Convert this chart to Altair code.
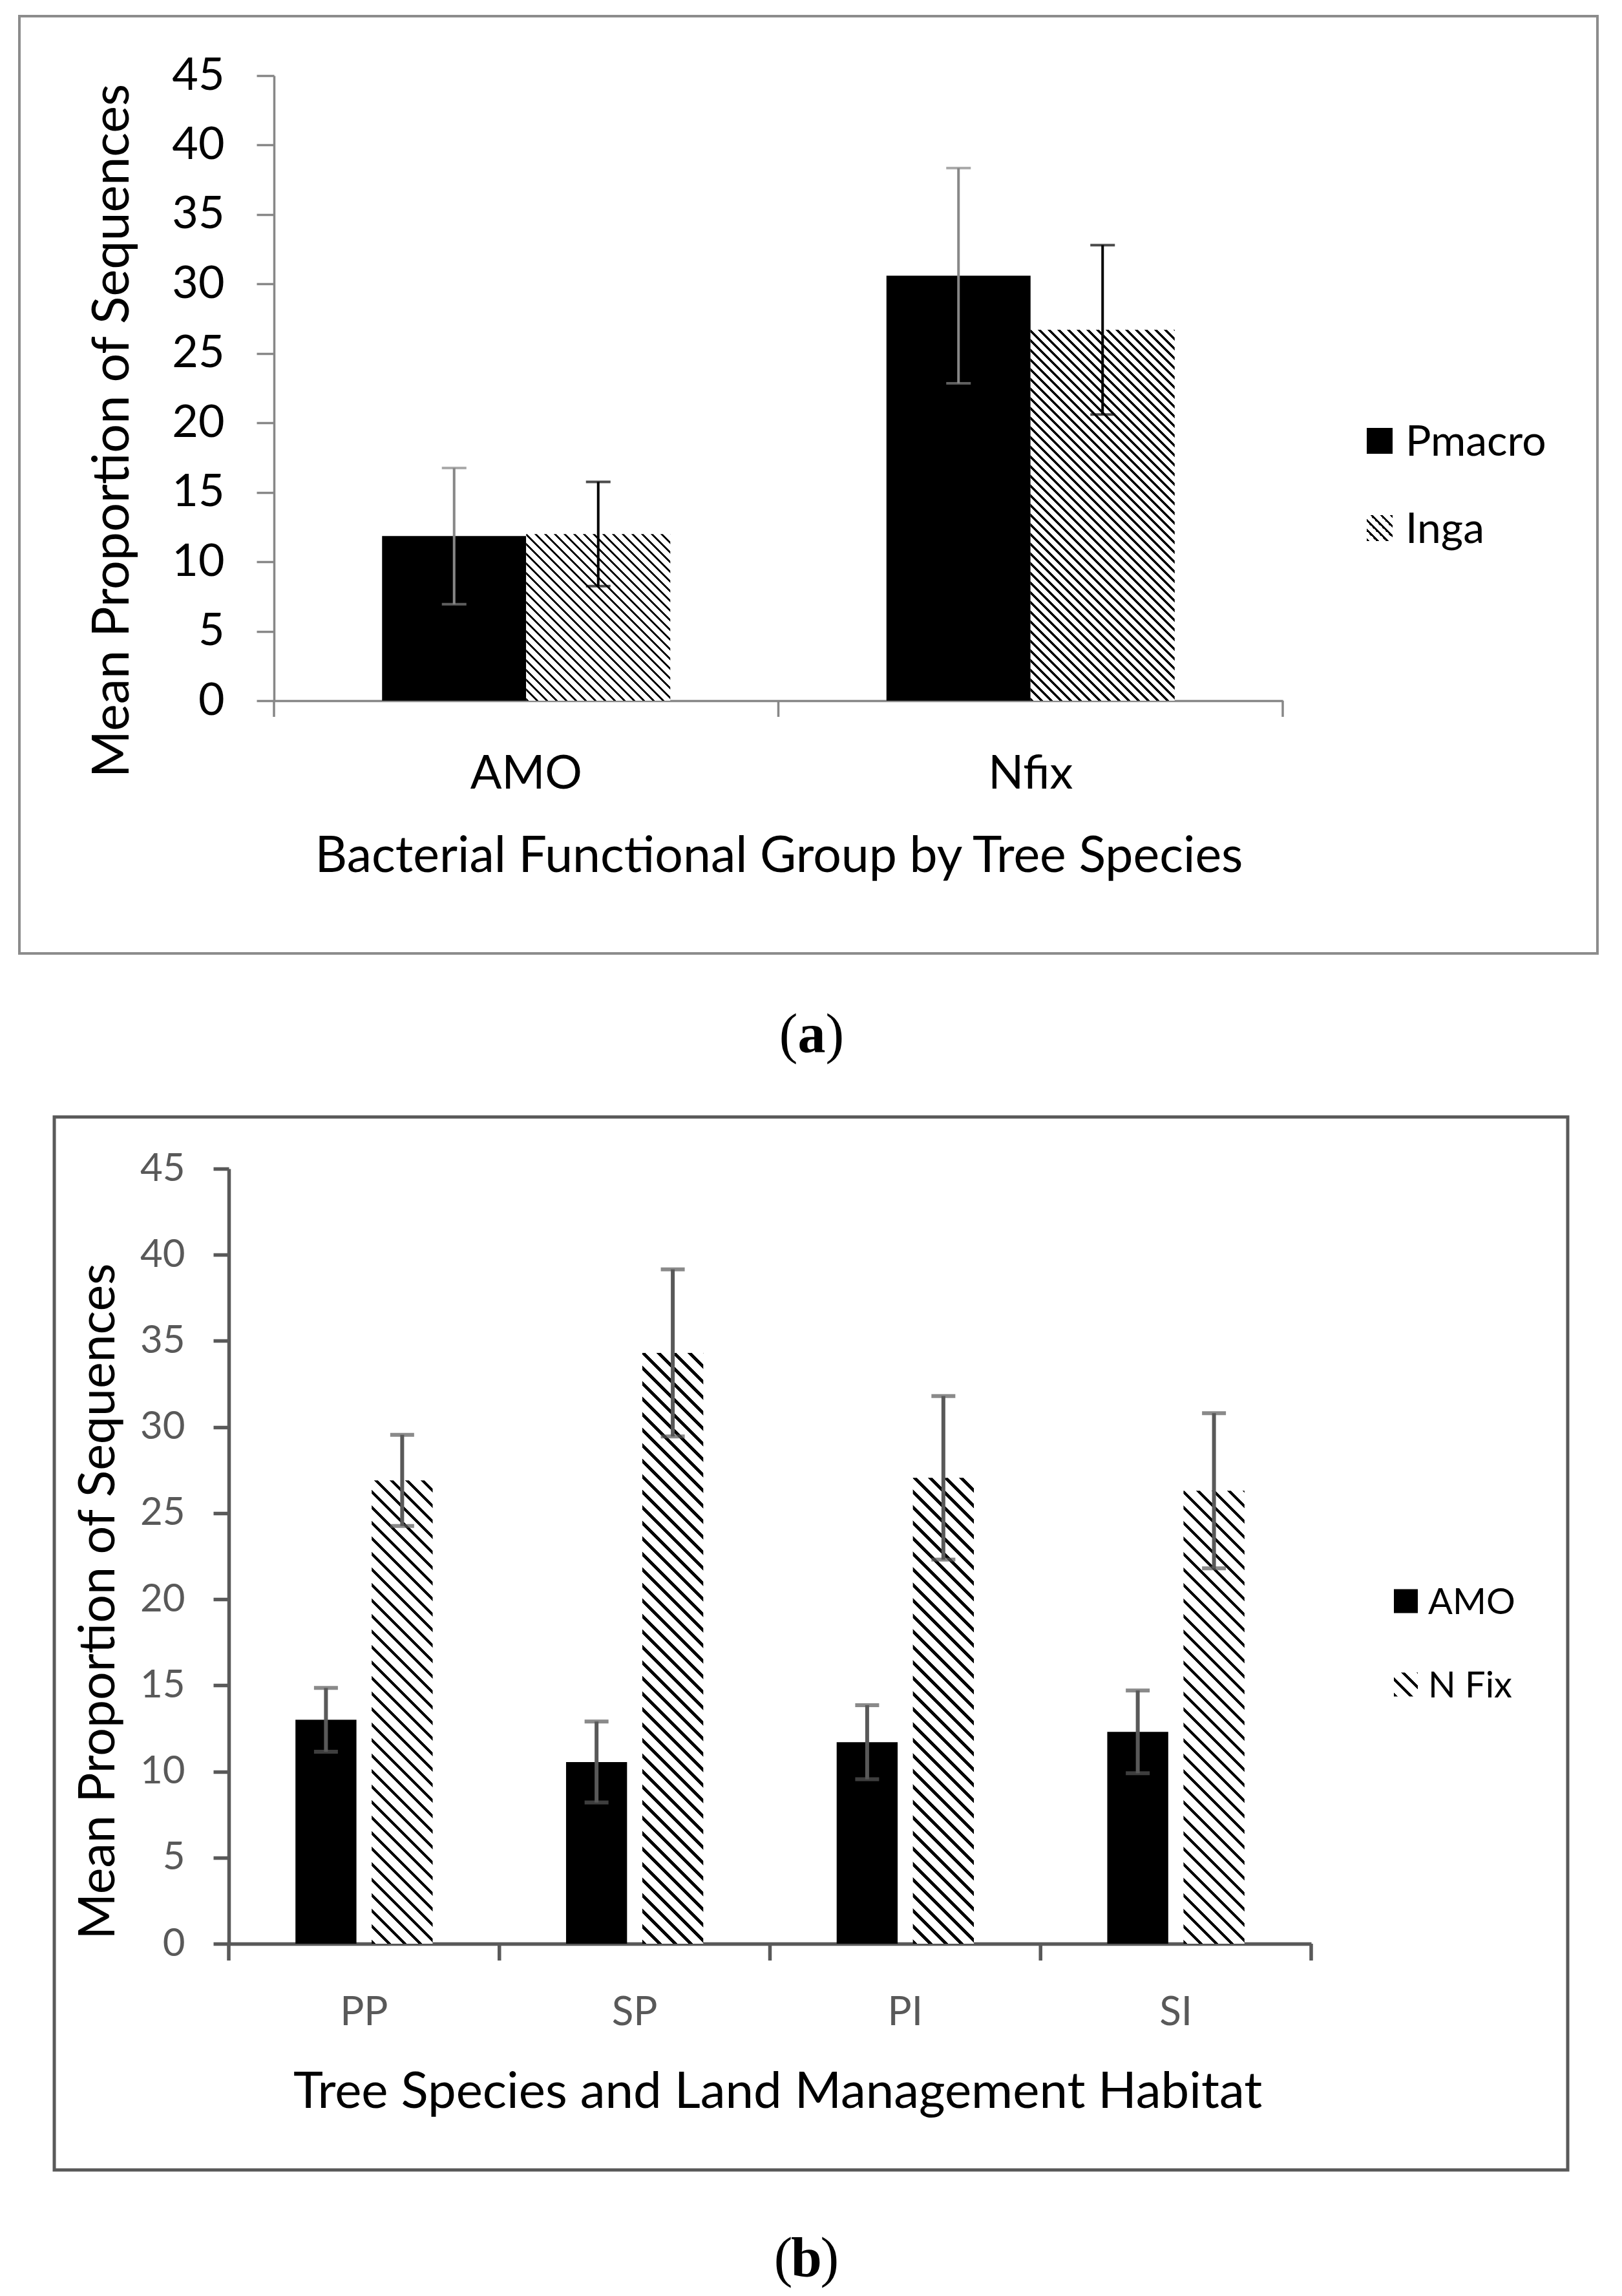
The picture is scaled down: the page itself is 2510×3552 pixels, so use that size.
import altair as alt
import pandas as pd

# ---------------- panel (a) data ----------------
groups_a = ["AMO", "Nfix"]
series_a = ["Pmacro", "Inga"]
pmacro_mean = [11.85, 30.6]
pmacro_err = [4.9, 7.75]
inga_mean = [12.0, 26.7]
inga_err = [3.75, 6.1]

# ---------------- panel (b) data ----------------
habitats_b = ["PP", "SP", "PI", "SI"]
series_b = ["AMO", "N Fix"]
amo_mean = [13.0, 10.55, 11.7, 12.3]
amo_err = [1.85, 2.35, 2.15, 2.4]
nfix_mean = [26.9, 34.3, 27.05, 26.3]
nfix_err = [2.65, 4.85, 4.75, 4.5]

y_ticks = [0, 5, 10, 15, 20, 25, 30, 35, 40, 45]
y_max = 45

xtitle_a = "Bacterial Functional Group by Tree Species"
ytitle_a = "Mean Proportion of  Sequences"
xtitle_b = "Tree Species and Land Management Habitat"
ytitle_b = "Mean Proportion of Sequences"
caption_a = ["(", "a", ")"]
caption_b = ["(", "b", ")"]

# ---------------- style ----------------
FONT = "Lato"
SERIF = "Liberation Serif"
INK = "#000000"
PAPER = "#ffffff"
GRAY_A = "#878787"
GRAY_B = "#595959"


def hatch_fill(w, h, period, duty, slope=1.0):
    """Diagonal stripes drawn as a linear gradient in bounding-box units."""
    k = h / (slope * w)
    s = (1.0 + k) / (1.0 + k * k)
    span = w + h / slope
    stops = []
    j = 0
    while j * period < span:
        a = j * period / span
        b = min((j + duty) * period / span, 1.0)
        c = min((j + 1) * period / span, 1.0)
        stops += [
            {"offset": round(a, 5), "color": INK},
            {"offset": round(b, 5), "color": INK},
            {"offset": round(b, 5), "color": PAPER},
            {"offset": round(c, 5), "color": PAPER},
        ]
        j += 1
    return {"gradient": "linear", "x1": 0, "y1": 1,
            "x2": round(s, 6), "y2": round(1 - k * s, 6), "stops": stops}


def one_row():
    return pd.DataFrame({"k": [0]})


def build_panel(cats, series, means, errs, err_colors, st):
    sf = st["sfield"]
    rows = []
    for si, sname in enumerate(series):
        for c, m, e in zip(cats, means[si], errs[si]):
            rows.append({"group": c, sf: sname, "mean": m,
                         "lo": m - e, "hi": m + e, "ecol": err_colors[si]})
    df = pd.DataFrame(rows)

    W, H = st["width"], st["height"]
    pi, po = st["pad_inner"], st["pad_outer"]
    band = W / len(cats)
    bar_w = band / (2 - pi + 2 * po) * (1 - pi)

    xscale = alt.Scale(domain=cats, paddingInner=0, paddingOuter=0)
    yscale = alt.Scale(domain=[0, y_max], nice=False)
    xo = alt.XOffset(f"{sf}:N", scale=alt.Scale(domain=series, range=[0, band],
                                                paddingInner=pi, paddingOuter=po))

    x_axis = alt.Axis(
        title=st["xtitle"], titleFont=FONT, titleFontSize=st["xtitle_size"],
        titleFontWeight="normal", titleColor=INK, titleX=st["xtitle_x"], titleY=st["xtitle_y"],
        titleBaseline="top", titleAlign="center",
        labelFont=FONT, labelFontSize=st["xlab_size"], labelColor=st["lab_color"],
        labelAngle=0, labelPadding=st["xlab_pad"], labelBaseline="top",
        ticks=False, domainColor=st["ax_color"], domainWidth=st["ax_width"], grid=False,
    )
    y_axis = alt.Axis(
        values=y_ticks, title=st["ytitle"], titleFont=FONT, titleFontSize=st["ytitle_size"],
        titleFontWeight="normal", titleColor=INK, titleAngle=270,
        titleX=st["ytitle_x"], titleY=st["ytitle_y"], titleAlign="center", titleBaseline="middle",
        labelFont=FONT, labelFontSize=st["ylab_size"], labelColor=st["lab_color"],
        labelPadding=st["ylab_pad"], tickSize=st["ytick"], tickWidth=st["ax_width"],
        tickColor=st["ax_color"], domainColor=st["ax_color"], domainWidth=st["ax_width"],
        grid=False,
    )
    X = alt.X("group:N", scale=xscale, axis=x_axis)

    def Y(field):
        return alt.Y(f"{field}:Q", scale=yscale, axis=y_axis)

    layers = []
    fx1, fx2, fy1, fy2 = st["frame"]
    layers.append(alt.Chart(one_row()).mark_rect(
        fillOpacity=0, stroke=st["frame_color"], strokeWidth=st["frame_width"]
    ).encode(x=alt.value(fx1), x2=alt.value(fx2), y=alt.value(fy1), y2=alt.value(fy2)))

    base = alt.Chart(df)
    layers.append(base.transform_filter(alt.datum[sf] == series[0]).mark_bar(
        color=INK, strokeWidth=0).encode(x=X, xOffset=xo, y=Y("mean")))
    for c, m in zip(cats, means[1]):
        fill = hatch_fill(bar_w, m * H / y_max, st["hatch_period"], st["hatch_duty"])
        layers.append(base.transform_filter(
            (alt.datum[sf] == series[1]) & (alt.datum.group == c)
        ).mark_bar(fill=fill, strokeWidth=0).encode(x=X, xOffset=xo, y=Y("mean")))

    ecol = alt.Color("ecol:N", scale=None)
    layers.append(base.mark_rule(strokeWidth=st["err_width"]).encode(
        x=X, xOffset=xo, y=Y("lo"), y2="hi:Q", color=ecol))
    for fld in ["lo", "hi"]:
        layers.append(base.mark_tick(orient="horizontal", size=st["cap"], thickness=st["err_width"]).encode(
            x=X, xOffset=xo, y=Y(fld), color=ecol))

    # category-boundary ticks on the x axis
    tl = st["xtick"]
    layers.append(alt.Chart(pd.DataFrame({"group": cats})).mark_rule(
        color=st["ax_color"], strokeWidth=st["ax_width"]).encode(
        x=alt.X("group:N", scale=xscale, axis=x_axis, bandPosition=0),
        y=alt.value(H), y2=alt.value(H + tl)))
    layers.append(alt.Chart(pd.DataFrame({"group": [cats[-1]]})).mark_rule(
        color=st["ax_color"], strokeWidth=st["ax_width"]).encode(
        x=alt.X("group:N", scale=xscale, axis=x_axis, bandPosition=1),
        y=alt.value(H), y2=alt.value(H + tl)))

    # legend
    lx, sw, tx = st["leg_x"], st["leg_sw"], st["leg_tx"]
    for i, sname in enumerate(series):
        cy = st["leg_y"][i]
        if i == 0:
            sym = alt.Chart(one_row()).mark_rect(color=INK)
        else:
            sym = alt.Chart(one_row()).mark_rect(
                fill=hatch_fill(sw, sw, st["hatch_period"], st["hatch_duty"]), strokeWidth=0)
        layers.append(sym.encode(x=alt.value(lx), x2=alt.value(lx + sw),
                                 y=alt.value(cy - sw / 2), y2=alt.value(cy + sw / 2)))
        layers.append(alt.Chart(pd.DataFrame({"label": [sname]})).mark_text(
            font=FONT, fontSize=st["leg_size"], align="left", baseline="middle", color=INK
        ).encode(text="label:N", x=alt.value(tx), y=alt.value(cy + 3)))

    # caption
    cx, cy = st["cap_xy"]
    half = st["cap_size"] * 0.25
    cap = st["caption"]
    layers.append(alt.Chart(one_row()).mark_text(
        text=cap[0], font=SERIF, fontSize=st["cap_size"], align="right", baseline="middle", color=INK
    ).encode(x=alt.value(cx - half), y=alt.value(cy)))
    layers.append(alt.Chart(one_row()).mark_text(
        text=cap[1], font=SERIF, fontSize=st["cap_size"], fontWeight="bold",
        align="center", baseline="middle", color=INK
    ).encode(x=alt.value(cx), y=alt.value(cy)))
    layers.append(alt.Chart(one_row()).mark_text(
        text=cap[2], font=SERIF, fontSize=st["cap_size"], align="left", baseline="middle", color=INK
    ).encode(x=alt.value(cx + half), y=alt.value(cy)))

    return alt.layer(*layers).properties(width=W, height=H)


style_a = dict(
    sfield="series_a",
    width=1561, height=967, pad_inner=0.0, pad_outer=0.75,
    ax_color=GRAY_A, ax_width=3.5, lab_color=INK, xtitle_size=77, ytitle_size=79,
    xlab_size=72, ylab_size=70, xlab_pad=78, ylab_pad=50, ytick=27, xtick=25,
    xtitle=xtitle_a, ytitle=ytitle_a, xtitle_x=781, xtitle_y=203,
    ytitle_x=-250, ytitle_y=549,
    err_width=4, cap=38, hatch_period=15, hatch_duty=0.3,
    frame=(-394, 2048, -92, 1358), frame_color="#8c8c8c", frame_width=4,
    leg_x=1691, leg_sw=40, leg_tx=1751, leg_y=[565, 700], leg_size=66,
    cap_xy=(832, 1485), cap_size=86, caption=caption_a,
)
style_b = dict(
    sfield="series_b",
    width=1675, height=1199, pad_inner=0.2, pad_outer=0.875,
    ax_color=GRAY_B, ax_width=5.5, lab_color=GRAY_B, xtitle_size=78, ytitle_size=77,
    xlab_size=62, ylab_size=60, xlab_pad=76, ylab_pad=44, ytick=24, xtick=26,
    xtitle=xtitle_b, ytitle=ytitle_b, xtitle_x=849, xtitle_y=191,
    ytitle_x=-201, ytitle_y=669,
    err_width=6, cap=37, hatch_period=24, hatch_duty=0.27,
    frame=(-270, 2072, -80, 1549), frame_color=GRAY_B, frame_width=5,
    leg_x=1803, leg_sw=37, leg_tx=1856, leg_y=[669, 798], leg_size=56,
    cap_xy=(894, 1687), cap_size=86, caption=caption_b,
)

top = build_panel(groups_a, series_a, [pmacro_mean, inga_mean], [pmacro_err, inga_err],
                  [GRAY_A, INK], style_a)
bottom = build_panel(habitats_b, series_b, [amo_mean, nfix_mean], [amo_err, nfix_err],
                     [GRAY_B, GRAY_B], style_b)

# empty spacer that shifts panel (a) to the right of panel (b)'s plot origin
spacer = alt.Chart(one_row()).mark_rect(opacity=0).encode(
    x=alt.value(0), x2=alt.value(1), y=alt.value(0), y2=alt.value(1)
).properties(width=70, height=20)

row_a = alt.hconcat(spacer, top, spacing=0, bounds="flush")

chart = alt.vconcat(row_a, bottom, spacing=80).resolve_scale(
    xOffset="independent", x="independent", y="independent"
).properties(
    padding={"left": 20, "top": 15, "right": 10, "bottom": 10}
).configure(font=FONT).configure_view(stroke=None)

chart.save("out.html", embed_options={"renderer": "svg", "actions": False})
